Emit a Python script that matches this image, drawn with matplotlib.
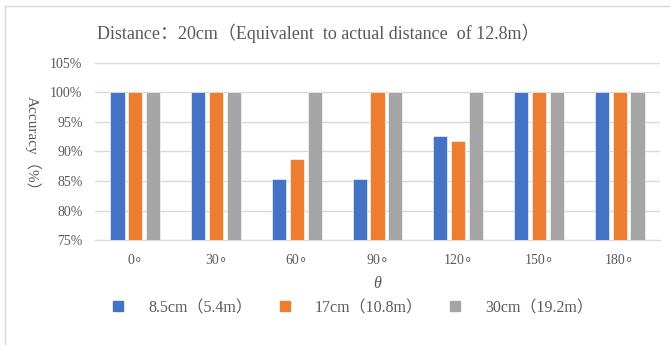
import matplotlib
matplotlib.use("Agg")
import matplotlib.pyplot as plt
import numpy as np
from matplotlib.lines import Line2D

categories = ["0∘", "30∘", "60∘", "90∘", "120∘", "150∘", "180∘"]
series_names = ["8.5cm（5.4m）", "17cm（10.8m）", "30cm（19.2m）"]
s1 = [100, 100, 85.3, 85.3, 92.6, 100, 100]
s2 = [100, 100, 88.7, 100, 91.7, 100, 100]
s3 = [100, 100, 100, 100, 100, 100, 100]
yticks = [75, 80, 85, 90, 95, 100, 105]
colors = ["#4472C4", "#ED7D31", "#A5A5A5"]
txt = "#595959"
fam = ["Liberation Serif", "Noto Sans CJK SC", "DejaVu Sans"]
plt.rcParams["font.family"] = fam

fig = plt.figure(figsize=(6.7, 3.45), dpi=100)
# light border lines (top and left)
fig.add_artist(Line2D([5/670, 5/670], [0, 1 - 6/345], color="#D9D9D9", lw=1, transform=fig.transFigure))
fig.add_artist(Line2D([5/670, 1], [1 - 6/345, 1 - 6/345], color="#D9D9D9", lw=1, transform=fig.transFigure))

ax = fig.add_axes([95/670, 1 - 240.3/345, 565/670, (240.3 - 62.5)/345])
x = np.arange(len(categories))
w = 0.175
step = 0.221
for i, (vals, c, n) in enumerate(zip([s1, s2, s3], colors, series_names)):
    ax.bar(x + (i - 1) * step, vals, width=w, color=c, edgecolor="white", linewidth=0.4, label=n, zorder=3)

ax.set_xlim(-0.5, len(categories) - 0.5)
ax.set_ylim(75, 105)
ax.set_yticks(yticks)
ax.set_yticklabels([f"{v}%" for v in yticks])
ax.set_xticks(x)
ax.set_xticklabels(categories)
ax.grid(axis="y", color="#D9D9D9", lw=1, zorder=0)
for s in ["top", "right", "left"]:
    ax.spines[s].set_visible(False)
ax.spines["bottom"].set_color("#D9D9D9")
ax.tick_params(axis="both", length=0, colors=txt, labelsize=10)
ax.tick_params(axis="y", pad=9)
ax.tick_params(axis="x", pad=10)

ax.set_xlabel("θ", fontsize=11.5, color=txt, style="italic", labelpad=6)
fig.text(33/670, 1 - 147/345, "Accuracy（%）", rotation=270, ha="center", va="center", fontsize=11, color=txt)
fig.text(318/670, 1 - 33/345, "Distance：20cm（Equivalent  to actual distance  of 12.8m）", ha="center", va="center", fontsize=13, color=txt)

handles = [Line2D([], [], marker="s", ls="none", markersize=7, color=c) for c in colors]
leg = fig.legend(handles, series_names, loc="center left", bbox_to_anchor=(96/670, 1 - 308/345), ncol=3,
                 frameon=False, fontsize=11.5, handletextpad=1.4, columnspacing=1.5, handlelength=1)
for t in leg.get_texts():
    t.set_color(txt)

fig.savefig("out.png", dpi=100)
